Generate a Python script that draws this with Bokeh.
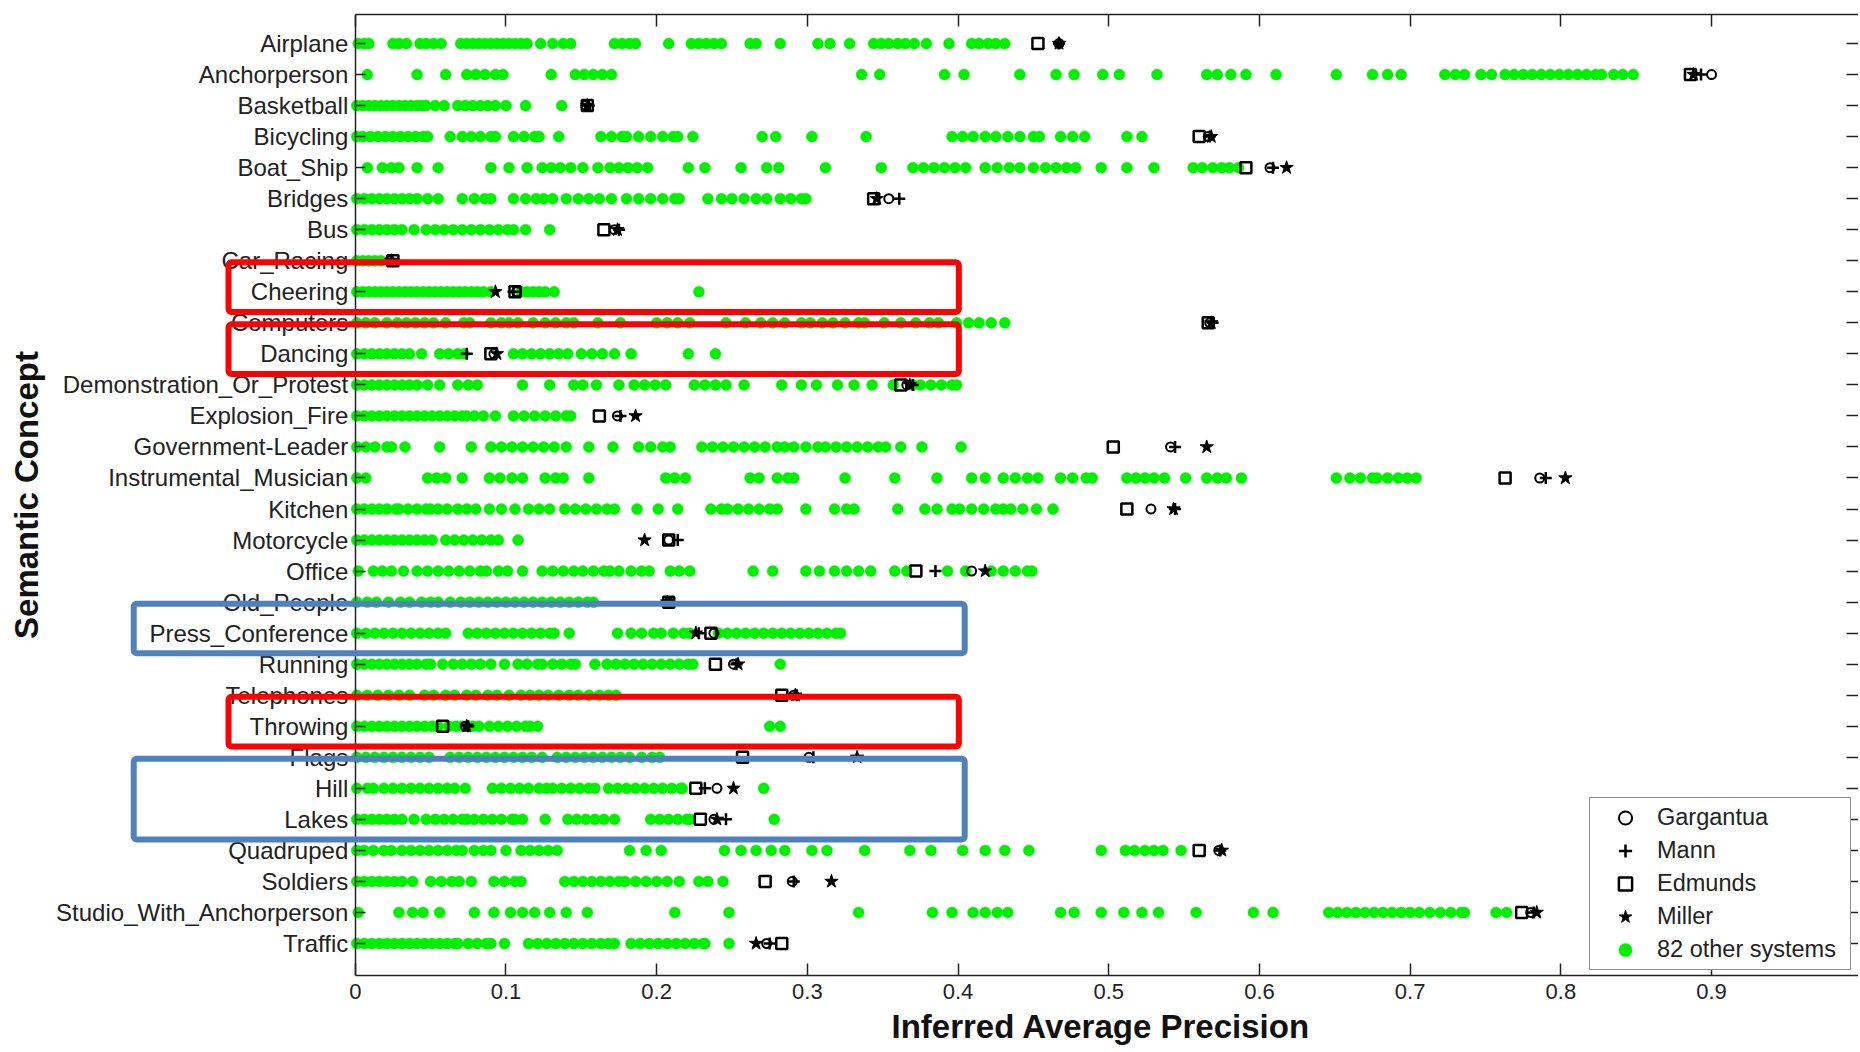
from bokeh.plotting import figure
from bokeh.models import (Range1d, LinearAxis, FixedTicker, Legend, LegendItem,
                          BoxAnnotation, ColumnDataSource, Title)
from bokeh.embed import file_html
from bokeh.resources import INLINE

categories = ["Airplane", "Anchorperson", "Basketball", "Bicycling", "Boat_Ship",
              "Bridges", "Bus", "Car_Racing", "Cheering", "Computers", "Dancing",
              "Demonstration_Or_Protest", "Explosion_Fire", "Government-Leader",
              "Instrumental_Musician", "Kitchen", "Motorcycle", "Office", "Old_People",
              "Press_Conference", "Running", "Telephones", "Throwing", "Flags", "Hill",
              "Lakes", "Quadruped", "Soldiers", "Studio_With_Anchorperson", "Traffic"]

x_tick_labels = ["0", "0.1", "0.2", "0.3", "0.4", "0.5", "0.6", "0.7", "0.8", "0.9", "1"]

# ---- the four named systems (one value per concept) ----
gargantua = [0.467, 0.900, 0.153, 0.566, 0.607, 0.354, 0.172, 0.023, 0.107, 0.567,
             0.092, 0.366, 0.174, 0.541, 0.786, 0.528, 0.208, 0.409, 0.208, 0.238,
             0.251, 0.291, 0.073, 0.301, 0.240, 0.238, 0.573, 0.290, 0.780, 0.273]
mann = [0.467, 0.893, 0.155, 0.567, 0.609, 0.361, 0.175, 0.024, 0.105, 0.569,
        0.074, 0.370, 0.176, 0.544, 0.790, 0.544, 0.214, 0.385, 0.209, 0.228,
        0.253, 0.293, 0.075, 0.304, 0.232, 0.246, 0.574, 0.291, 0.782, 0.275]
edmunds = [0.453, 0.886, 0.154, 0.560, 0.591, 0.344, 0.165, 0.025, 0.106, 0.566,
           0.090, 0.362, 0.162, 0.503, 0.763, 0.512, 0.208, 0.372, 0.208, 0.236,
           0.239, 0.283, 0.058, 0.257, 0.226, 0.229, 0.560, 0.272, 0.774, 0.283]
miller = [0.467, 0.888, 0.154, 0.568, 0.618, 0.346, 0.174, 0.024, 0.093, 0.568,
          0.094, 0.368, 0.186, 0.565, 0.803, 0.543, 0.192, 0.418, 0.207, 0.226,
          0.254, 0.292, 0.074, 0.333, 0.251, 0.240, 0.575, 0.316, 0.784, 0.266]

# ---- the other systems, per concept ----
airplane = [0.002, 0.006, 0.009, 0.025, 0.029, 0.034, 0.043, 0.047, 0.052, 0.057, 0.070, 0.074, 0.078, 0.082, 0.086, 0.090, 0.094, 0.098, 0.102, 0.106, 0.110, 0.114, 0.123, 0.131, 0.138, 0.143, 0.172, 0.177, 0.182, 0.186, 0.208, 0.223, 0.228, 0.233, 0.238, 0.243, 0.262, 0.266, 0.282, 0.307, 0.315, 0.328, 0.344, 0.349, 0.354, 0.360, 0.365, 0.371, 0.379, 0.394, 0.409, 0.414, 0.420, 0.425, 0.431]
anchorperson = [0.008, 0.041, 0.060, 0.074, 0.080, 0.086, 0.093, 0.098, 0.130, 0.146, 0.152, 0.158, 0.164, 0.170, 0.336, 0.348, 0.391, 0.404, 0.441, 0.465, 0.477, 0.496, 0.507, 0.532, 0.565, 0.572, 0.581, 0.591, 0.611, 0.651, 0.675, 0.685, 0.694, 0.723, 0.730, 0.736, 0.747, 0.754, 0.763, 0.769, 0.775, 0.781, 0.787, 0.793, 0.799, 0.805, 0.811, 0.817, 0.823, 0.827, 0.835, 0.841, 0.848]
basketball = [0.001, 0.005, 0.009, 0.013, 0.017, 0.021, 0.025, 0.029, 0.033, 0.037, 0.041, 0.044, 0.047, 0.053, 0.059, 0.068, 0.073, 0.078, 0.083, 0.088, 0.093, 0.100, 0.113, 0.137]
bicycling = [0.001, 0.005, 0.010, 0.015, 0.020, 0.025, 0.030, 0.035, 0.040, 0.045, 0.048, 0.063, 0.071, 0.077, 0.083, 0.090, 0.093, 0.105, 0.112, 0.119, 0.122, 0.135, 0.163, 0.170, 0.177, 0.180, 0.188, 0.196, 0.204, 0.211, 0.214, 0.224, 0.270, 0.279, 0.303, 0.339, 0.396, 0.403, 0.410, 0.418, 0.425, 0.433, 0.441, 0.450, 0.454, 0.468, 0.476, 0.484, 0.512, 0.522]
boat_ship = [0.008, 0.018, 0.024, 0.029, 0.041, 0.055, 0.090, 0.102, 0.114, 0.124, 0.130, 0.136, 0.143, 0.151, 0.161, 0.169, 0.175, 0.181, 0.187, 0.194, 0.221, 0.232, 0.256, 0.273, 0.281, 0.312, 0.349, 0.370, 0.377, 0.384, 0.391, 0.398, 0.405, 0.418, 0.426, 0.434, 0.441, 0.450, 0.458, 0.465, 0.472, 0.478, 0.495, 0.512, 0.530, 0.556, 0.562, 0.569, 0.575, 0.580, 0.586]
bridges = [0.001, 0.006, 0.011, 0.016, 0.021, 0.026, 0.031, 0.036, 0.041, 0.048, 0.055, 0.071, 0.079, 0.086, 0.090, 0.105, 0.113, 0.120, 0.125, 0.131, 0.140, 0.148, 0.155, 0.162, 0.170, 0.180, 0.188, 0.196, 0.204, 0.212, 0.215, 0.234, 0.243, 0.250, 0.258, 0.266, 0.273, 0.282, 0.289, 0.296, 0.299]
bus = [0.001, 0.006, 0.011, 0.016, 0.021, 0.026, 0.031, 0.039, 0.047, 0.053, 0.059, 0.065, 0.071, 0.077, 0.083, 0.089, 0.095, 0.101, 0.105, 0.113, 0.129]
car_racing = [0.001, 0.005, 0.009, 0.013, 0.017]
cheering = [0.001, 0.005, 0.009, 0.013, 0.017, 0.021, 0.025, 0.029, 0.033, 0.037, 0.041, 0.045, 0.049, 0.053, 0.057, 0.061, 0.065, 0.069, 0.073, 0.077, 0.081, 0.085, 0.090, 0.110, 0.114, 0.118, 0.122, 0.126, 0.132, 0.228]
computers = [0.001, 0.007, 0.013, 0.021, 0.028, 0.034, 0.040, 0.046, 0.052, 0.060, 0.072, 0.076, 0.090, 0.097, 0.102, 0.108, 0.118, 0.126, 0.133, 0.140, 0.145, 0.161, 0.176, 0.200, 0.207, 0.214, 0.222, 0.246, 0.259, 0.269, 0.277, 0.285, 0.296, 0.302, 0.310, 0.317, 0.325, 0.334, 0.338, 0.351, 0.362, 0.372, 0.381, 0.387, 0.399, 0.407, 0.414, 0.422, 0.431]
dancing = [0.001, 0.006, 0.011, 0.016, 0.021, 0.026, 0.031, 0.036, 0.044, 0.056, 0.062, 0.068, 0.072, 0.105, 0.111, 0.117, 0.123, 0.129, 0.135, 0.141, 0.150, 0.157, 0.164, 0.172, 0.183, 0.221, 0.239]
demonstration = [0.001, 0.006, 0.011, 0.016, 0.021, 0.026, 0.031, 0.036, 0.041, 0.048, 0.056, 0.068, 0.075, 0.081, 0.111, 0.129, 0.145, 0.151, 0.160, 0.175, 0.185, 0.192, 0.199, 0.206, 0.225, 0.232, 0.239, 0.246, 0.258, 0.283, 0.296, 0.306, 0.320, 0.331, 0.343, 0.357, 0.370, 0.375, 0.382, 0.389, 0.396, 0.399]
explosion_fire = [0.001, 0.006, 0.011, 0.016, 0.021, 0.026, 0.031, 0.036, 0.041, 0.046, 0.051, 0.056, 0.061, 0.066, 0.071, 0.074, 0.079, 0.085, 0.093, 0.105, 0.112, 0.119, 0.126, 0.133, 0.140, 0.143]
government_leader = [0.001, 0.007, 0.013, 0.021, 0.024, 0.033, 0.056, 0.077, 0.090, 0.097, 0.104, 0.111, 0.118, 0.125, 0.132, 0.140, 0.155, 0.171, 0.188, 0.196, 0.204, 0.209, 0.230, 0.237, 0.244, 0.251, 0.258, 0.265, 0.272, 0.280, 0.285, 0.291, 0.299, 0.307, 0.312, 0.319, 0.326, 0.333, 0.340, 0.347, 0.352, 0.362, 0.376, 0.402]
instrumental = [0.001, 0.007, 0.048, 0.054, 0.060, 0.071, 0.089, 0.096, 0.104, 0.111, 0.126, 0.133, 0.138, 0.155, 0.206, 0.212, 0.219, 0.262, 0.268, 0.280, 0.287, 0.291, 0.325, 0.358, 0.386, 0.409, 0.418, 0.430, 0.438, 0.446, 0.453, 0.468, 0.476, 0.485, 0.489, 0.512, 0.518, 0.524, 0.530, 0.537, 0.551, 0.565, 0.572, 0.578, 0.588, 0.651, 0.660, 0.667, 0.675, 0.678, 0.685, 0.692, 0.698, 0.704]
kitchen = [0.001, 0.006, 0.011, 0.016, 0.021, 0.027, 0.029, 0.035, 0.041, 0.047, 0.050, 0.055, 0.061, 0.068, 0.074, 0.080, 0.089, 0.097, 0.106, 0.115, 0.122, 0.129, 0.139, 0.146, 0.153, 0.160, 0.167, 0.172, 0.187, 0.201, 0.214, 0.236, 0.243, 0.247, 0.254, 0.261, 0.268, 0.275, 0.280, 0.299, 0.318, 0.326, 0.331, 0.360, 0.378, 0.386, 0.396, 0.401, 0.409, 0.417, 0.425, 0.430, 0.435, 0.443, 0.452, 0.463]
motorcycle = [0.001, 0.006, 0.011, 0.016, 0.021, 0.026, 0.031, 0.036, 0.041, 0.046, 0.051, 0.060, 0.066, 0.072, 0.078, 0.084, 0.090, 0.095, 0.108]
office = [0.002, 0.012, 0.018, 0.024, 0.032, 0.041, 0.048, 0.055, 0.062, 0.069, 0.076, 0.083, 0.087, 0.095, 0.101, 0.111, 0.124, 0.131, 0.138, 0.145, 0.151, 0.158, 0.165, 0.169, 0.175, 0.183, 0.190, 0.195, 0.209, 0.215, 0.222, 0.264, 0.277, 0.299, 0.308, 0.318, 0.326, 0.334, 0.342, 0.358, 0.366, 0.393, 0.405, 0.422, 0.430, 0.438, 0.446, 0.449]
old_people = [0.001, 0.008, 0.014, 0.022, 0.030, 0.036, 0.044, 0.050, 0.055, 0.063, 0.070, 0.076, 0.082, 0.088, 0.094, 0.100, 0.106, 0.112, 0.118, 0.124, 0.130, 0.136, 0.142, 0.148, 0.154, 0.158]
press_conference = [0.001, 0.007, 0.013, 0.019, 0.025, 0.031, 0.037, 0.043, 0.049, 0.055, 0.060, 0.075, 0.081, 0.087, 0.093, 0.099, 0.105, 0.111, 0.117, 0.123, 0.129, 0.132, 0.142, 0.174, 0.183, 0.190, 0.198, 0.203, 0.211, 0.218, 0.222, 0.241, 0.247, 0.253, 0.259, 0.265, 0.271, 0.277, 0.283, 0.289, 0.295, 0.301, 0.307, 0.313, 0.319, 0.322]
running = [0.001, 0.006, 0.011, 0.016, 0.021, 0.026, 0.031, 0.036, 0.041, 0.047, 0.050, 0.058, 0.065, 0.071, 0.077, 0.083, 0.090, 0.099, 0.108, 0.114, 0.121, 0.124, 0.131, 0.137, 0.143, 0.146, 0.159, 0.167, 0.173, 0.179, 0.185, 0.191, 0.197, 0.203, 0.209, 0.215, 0.221, 0.224, 0.282]
telephones = [0.001, 0.008, 0.015, 0.022, 0.029, 0.036, 0.046, 0.052, 0.060, 0.066, 0.074, 0.080, 0.088, 0.094, 0.102, 0.110, 0.116, 0.122, 0.128, 0.135, 0.142, 0.148, 0.155, 0.162, 0.168, 0.173]
throwing = [0.001, 0.006, 0.011, 0.016, 0.021, 0.026, 0.031, 0.036, 0.041, 0.046, 0.051, 0.055, 0.062, 0.067, 0.071, 0.078, 0.082, 0.089, 0.095, 0.101, 0.107, 0.113, 0.116, 0.121, 0.275, 0.282]
flags = [0.001, 0.007, 0.013, 0.019, 0.025, 0.031, 0.037, 0.043, 0.049, 0.063, 0.069, 0.075, 0.081, 0.087, 0.093, 0.099, 0.105, 0.111, 0.117, 0.124, 0.134, 0.140, 0.146, 0.152, 0.158, 0.164, 0.170, 0.176, 0.182, 0.190, 0.197, 0.202]
hill = [0.001, 0.008, 0.012, 0.019, 0.025, 0.031, 0.037, 0.043, 0.049, 0.055, 0.061, 0.066, 0.073, 0.091, 0.097, 0.103, 0.109, 0.115, 0.122, 0.127, 0.131, 0.137, 0.143, 0.149, 0.155, 0.159, 0.168, 0.174, 0.180, 0.186, 0.192, 0.198, 0.204, 0.210, 0.216, 0.217, 0.271]
lakes = [0.001, 0.006, 0.011, 0.016, 0.021, 0.026, 0.031, 0.039, 0.047, 0.053, 0.059, 0.065, 0.071, 0.074, 0.079, 0.085, 0.091, 0.097, 0.104, 0.106, 0.111, 0.126, 0.141, 0.147, 0.153, 0.159, 0.165, 0.172, 0.196, 0.202, 0.208, 0.214, 0.220, 0.222, 0.278]
quadruped = [0.001, 0.006, 0.012, 0.019, 0.024, 0.031, 0.037, 0.043, 0.049, 0.055, 0.061, 0.067, 0.071, 0.079, 0.085, 0.090, 0.100, 0.110, 0.116, 0.122, 0.128, 0.134, 0.182, 0.193, 0.203, 0.245, 0.256, 0.266, 0.276, 0.285, 0.303, 0.313, 0.338, 0.368, 0.382, 0.403, 0.418, 0.431, 0.447, 0.495, 0.511, 0.517, 0.524, 0.530, 0.536, 0.548]
soldiers = [0.001, 0.006, 0.011, 0.016, 0.021, 0.026, 0.031, 0.038, 0.050, 0.057, 0.064, 0.069, 0.077, 0.092, 0.099, 0.106, 0.110, 0.139, 0.145, 0.151, 0.157, 0.163, 0.169, 0.175, 0.179, 0.186, 0.193, 0.200, 0.207, 0.215, 0.228, 0.234, 0.244]
studio = [0.002, 0.029, 0.038, 0.045, 0.056, 0.079, 0.092, 0.103, 0.111, 0.119, 0.129, 0.140, 0.154, 0.212, 0.248, 0.334, 0.383, 0.396, 0.410, 0.418, 0.426, 0.433, 0.468, 0.477, 0.495, 0.510, 0.522, 0.533, 0.558, 0.596, 0.609, 0.646, 0.652, 0.658, 0.664, 0.670, 0.676, 0.682, 0.688, 0.694, 0.700, 0.706, 0.713, 0.720, 0.727, 0.734, 0.736, 0.757, 0.764]
traffic = [0.001, 0.006, 0.011, 0.016, 0.021, 0.026, 0.031, 0.036, 0.041, 0.046, 0.051, 0.056, 0.061, 0.066, 0.068, 0.075, 0.081, 0.087, 0.090, 0.099, 0.115, 0.121, 0.127, 0.133, 0.139, 0.145, 0.151, 0.157, 0.163, 0.168, 0.172, 0.183, 0.189, 0.195, 0.201, 0.207, 0.213, 0.219, 0.225, 0.231, 0.232, 0.248]

other_rows = [airplane, anchorperson, basketball, bicycling, boat_ship, bridges, bus,
              car_racing, cheering, computers, dancing, demonstration, explosion_fire,
              government_leader, instrumental, kitchen, motorcycle, office, old_people,
              press_conference, running, telephones, throwing, flags, hill, lakes,
              quadruped, soldiers, studio, traffic]

# highlighted concept groups: (first, last, colour)
highlights = [("Cheering", "Cheering", "#ff0000"),
              ("Dancing", "Dancing", "#ff0000"),
              ("Press_Conference", "Press_Conference", "#4f81bd"),
              ("Throwing", "Throwing", "#ff0000"),
              ("Hill", "Lakes", "#4f81bd")]

# ---------------------------------------------------------------------------
n = len(categories)
ypos = {c: n - i for i, c in enumerate(categories)}   # Airplane on top

FONT = "Liberation Sans"
GREEN = "#00f000"
AX = "#222222"

p = figure(width=1858, height=1052, output_backend="svg", toolbar_location=None,
           x_range=Range1d(-0.2354, 0.9975), y_range=Range1d(-0.031, n + 0.935),
           x_axis_location=None, y_axis_location=None,
           min_border_left=0, min_border_right=0, min_border_top=14,
           min_border_bottom=77, background_fill_color="white",
           border_fill_color="white", outline_line_color=None)
p.grid.visible = False

ox, oy = [], []
for c, vals in zip(categories, other_rows):
    ox.extend(vals)
    oy.extend([ypos[c]] * len(vals))
src_o = ColumnDataSource(dict(x=ox, y=oy))
yy = [ypos[c] for c in categories]
src_s = ColumnDataSource(dict(y=yy, g=gargantua, m=mann, e=edmunds, mi=miller))

r_other = p.scatter("x", "y", source=src_o, marker="circle", size=11,
                    fill_color=GREEN, line_color=GREEN, line_width=0.5)
r_edm = p.scatter("e", "y", source=src_s, marker="square", size=11,
                  fill_color=None, line_color="black", line_width=2.5)
r_garg = p.scatter("g", "y", source=src_s, marker="circle", size=9,
                   fill_color=None, line_color="black", line_width=2)
r_mann = p.scatter("m", "y", source=src_s, marker="cross", size=12,
                   line_color="black", line_width=2.5)
r_mill = p.scatter("mi", "y", source=src_s, marker="star", size=14,
                   fill_color="black", line_color="black", line_width=1)

# ---- axes ----
xticks = [float(s) for s in x_tick_labels]
x_bounds = (xticks[0], xticks[-1])


def styled(axis, tick_in):
    axis.major_tick_in = tick_in
    axis.major_tick_out = 0
    axis.minor_tick_line_color = None
    axis.axis_line_color = AX
    axis.axis_line_width = 1.5
    axis.major_tick_line_color = AX
    axis.major_tick_line_width = 1.5
    return axis


bottom = styled(LinearAxis(ticker=FixedTicker(ticks=xticks), bounds=x_bounds), 12)
bottom.major_label_overrides = dict(zip(xticks, x_tick_labels))
bottom.major_label_text_font = FONT
bottom.major_label_text_font_size = "22px"
bottom.major_label_text_color = AX
bottom.major_label_standoff = 8
p.add_layout(bottom, "below")

# x-axis title, placed under the 0..1 span of the axis
p.add_layout(Title(text="Inferred Average Precision", align="left", offset=891,
                   text_font=FONT, text_font_style="bold", text_font_size="33px",
                   text_color="#111111", standoff=8), "below")

left = styled(LinearAxis(ticker=FixedTicker(ticks=yy), fixed_location=0), 10)
left.major_label_overrides = {ypos[c]: c for c in categories}
left.major_label_text_font = FONT
left.major_label_text_font_size = "24px"
left.major_label_text_color = AX
left.major_label_standoff = 7
left.axis_label = "Semantic Concept"
left.axis_label_text_font = FONT
left.axis_label_text_font_style = "bold"
left.axis_label_text_font_size = "33px"
left.axis_label_text_color = "#111111"
left.axis_label_standoff = 8
p.add_layout(left, "left")

top = styled(LinearAxis(ticker=FixedTicker(ticks=xticks), bounds=x_bounds), 12)
top.major_label_text_font_size = "0px"
top.major_label_text_color = None
top.major_label_standoff = 0
p.add_layout(top, "above")

right = styled(LinearAxis(ticker=FixedTicker(ticks=yy)), 12)
right.axis_line_color = None
right.major_label_text_font_size = "0px"
right.major_label_text_color = None
right.major_label_standoff = 0
p.add_layout(right, "right")

# ---- highlight boxes ----
box_x = {"#ff0000": (-0.0841, 0.4005), "#4f81bd": (-0.1470, 0.4044)}
for first, last, col in highlights:
    l, r = box_x[col]
    p.add_layout(BoxAnnotation(left=l, right=r, top=ypos[first] + 0.95,
                               bottom=ypos[last] - 0.65, fill_color=None,
                               fill_alpha=0, line_color=col, line_alpha=1.0,
                               line_width=6, border_radius=3, level="overlay"))

# ---- legend ----
legend = Legend(items=[LegendItem(label="Gargantua", renderers=[r_garg]),
                       LegendItem(label="Mann", renderers=[r_mann]),
                       LegendItem(label="Edmunds", renderers=[r_edm]),
                       LegendItem(label="Miller", renderers=[r_mill]),
                       LegendItem(label="82 other systems", renderers=[r_other])],
                location=(1589, 5), orientation="vertical",
                glyph_width=64, glyph_height=33, label_height=33, label_width=190,
                spacing=0, padding=3, margin=0, label_standoff=0,
                label_text_font=FONT, label_text_font_size="23.5px",
                label_text_color=AX, border_line_color=AX,
                border_line_width=1.5, background_fill_color="white",
                background_fill_alpha=1.0)
p.add_layout(legend, "center")

open("out.html", "w").write(file_html(p, INLINE))
